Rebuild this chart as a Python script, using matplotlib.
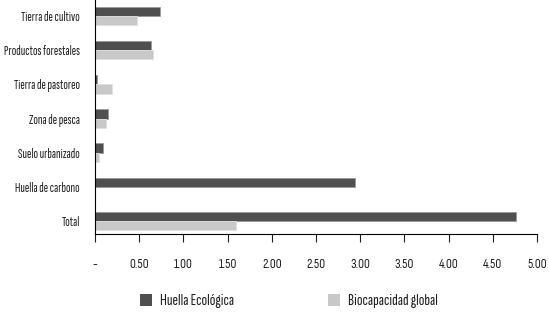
import matplotlib.pyplot as plt
import numpy as np
from matplotlib.patches import Patch

# categories top to bottom
categories = ["Tierra de cultivo", "Productos forestales", "Tierra de pastoreo",
              "Zona de pesca", "Suelo urbanizado", "Huella de carbono", "Total"]
huella = [0.74, 0.63, 0.02, 0.15, 0.09, 2.94, 4.76]
biocap = [0.48, 0.66, 0.19, 0.13, 0.05, 0.0, 1.59]
xticks = [0, 0.5, 1, 1.5, 2, 2.5, 3, 3.5, 4, 4.5, 5]
xticklabels = ["-", "0.50", "1.00", "1.50", "2.00", "2.50", "3.00", "3.50", "4.00", "4.50", "5.00"]

narrow = ['Sofia Sans Extra Condensed', 'DejaVu Sans']
semi = ['Sofia Sans Condensed', 'DejaVu Sans']
plt.rcParams['font.family'] = narrow
plt.rcParams['text.color'] = "#1e1e1e"
plt.rcParams['xtick.color'] = "#1e1e1e"
plt.rcParams['ytick.color'] = "#1e1e1e"

dark = "#4f4f4f"
light = "#c8c8c8"

fig = plt.figure(figsize=(5.49, 3.14), dpi=100)
ax = fig.add_axes([0.173, 0.255, 0.805, 0.745])

y = np.arange(len(categories))
h = 0.27
ax.barh(y - h / 2, huella, height=h, color=dark, edgecolor="#9a9a9a", linewidth=0.6)
ax.barh(y + h / 2, biocap, height=h, color=light, edgecolor="#e0e0e0", linewidth=0.6)

ax.set_ylim(6.38, -0.47)
ax.set_xlim(0, 5)
ax.set_yticks(y)
ax.set_yticklabels(categories, fontsize=9.5)
ax.tick_params(axis="y", length=0, pad=11)
ax.set_xticks(xticks)
ax.set_xticklabels(xticklabels, fontsize=9.5, family=semi)
ax.tick_params(axis="x", length=6, width=0.8, pad=11, direction="out")

for s in ["top", "right"]:
    ax.spines[s].set_visible(False)
ax.spines["left"].set_linewidth(0.8)
ax.spines["bottom"].set_linewidth(0.8)

handles = [Patch(facecolor=dark, label="Huella Ecológica"),
           Patch(facecolor=light, label="Biocapacidad global")]
fig.legend(handles=handles, loc="center left", bbox_to_anchor=(140 / 549, 13 / 314), ncol=2,
           frameon=False, fontsize=12, handlelength=0.72, handleheight=0.72,
           borderpad=0, borderaxespad=0, columnspacing=5.6, handletextpad=0.5)

fig.savefig("out.png", dpi=100)
